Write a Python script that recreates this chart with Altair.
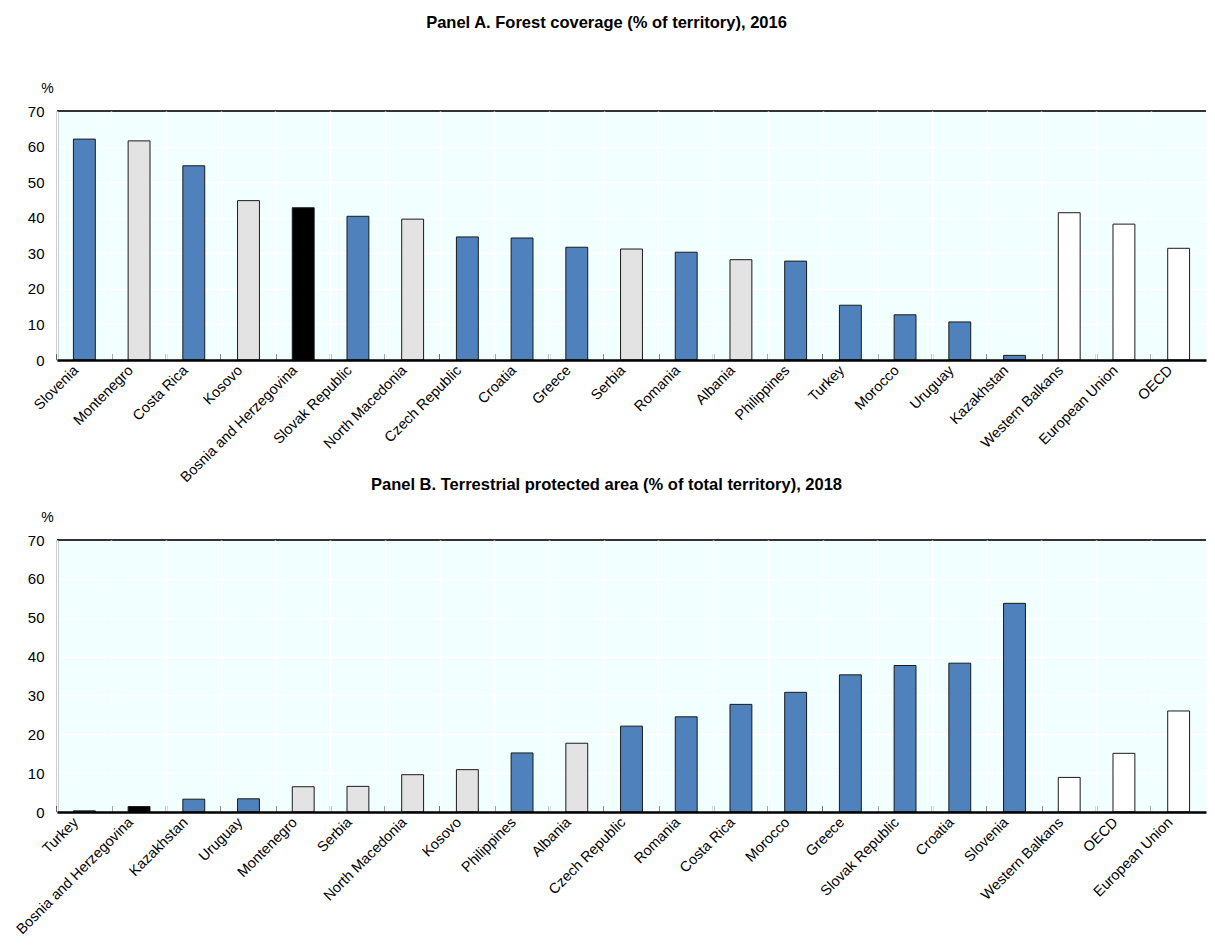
import altair as alt
import pandas as pd

FONT = "Liberation Sans, Arial, Helvetica, sans-serif"

# Panel A: forest coverage (% of territory), 2016
a_countries = ["Slovenia", "Montenegro", "Costa Rica", "Kosovo", "Bosnia and Herzegovina",
               "Slovak Republic", "North Macedonia", "Czech Republic", "Croatia", "Greece",
               "Serbia", "Romania", "Albania", "Philippines", "Turkey", "Morocco", "Uruguay",
               "Kazakhstan", "Western Balkans", "European Union", "OECD"]
a_values = [62.1, 61.6, 54.6, 44.8, 42.8, 40.4, 39.6, 34.6, 34.3, 31.7, 31.2, 30.3, 28.2,
            27.8, 15.4, 12.7, 10.7, 1.3, 41.4, 38.2, 31.4]
a_groups = ["O", "W", "O", "W", "B", "O", "W", "O", "O", "O", "W", "O", "W", "O", "O", "O",
            "O", "O", "A", "A", "A"]

# Panel B: terrestrial protected area (% of total territory), 2018
b_countries = ["Turkey", "Bosnia and Herzegovina", "Kazakhstan", "Uruguay", "Montenegro",
               "Serbia", "North Macedonia", "Kosovo", "Philippines", "Albania", "Czech Republic",
               "Romania", "Costa Rica", "Morocco", "Greece", "Slovak Republic", "Croatia",
               "Slovenia", "Western Balkans", "OECD", "European Union"]
b_values = [0.3, 1.4, 3.3, 3.4, 6.5, 6.6, 9.6, 10.9, 15.2, 17.7, 22.1, 24.5, 27.7, 30.8,
            35.3, 37.7, 38.3, 53.7, 8.9, 15.1, 26.0]
b_groups = ["O", "B", "O", "O", "W", "W", "W", "W", "O", "W", "O", "O", "O", "O", "O", "O",
            "O", "O", "A", "A", "A"]

group_domain = ["O", "W", "B", "A"]
group_colors = ["#4F81BD", "#E3E3E3", "#000000", "#FFFFFF"]
y_ticks = [0, 10, 20, 30, 40, 50, 60, 70]

W = 1149


def panel(cats, vals, grps, title, h, title_offset):
    df = pd.DataFrame({"country": cats, "value": vals, "group": grps})
    x = alt.X(
        "country:N", sort=cats,
        scale=alt.Scale(paddingInner=0, paddingOuter=0),
        axis=alt.Axis(title=None, labelAngle=315, labelAlign="right", labelBaseline="middle",
                      labelFontSize=14.5, labelFont=FONT, labelColor="black", labelPadding=8,
                      labelOffset=-8, labelLimit=400, ticks=False, domainColor="black",
                      domainWidth=2.5, grid=True, gridColor="white", gridWidth=1.5,
                      bandPosition=0, zindex=1),
    )
    y = alt.Y(
        "value:Q", scale=alt.Scale(domain=[0, 70], nice=False),
        axis=alt.Axis(values=y_ticks, title="%", titleAngle=0, titleX=-10, titleY=-16,
                      titleBaseline="bottom", titleAlign="center", titleFontWeight="normal",
                      titleFontSize=14, titleFont=FONT, titleColor="black",
                      labelFontSize=15, labelFont=FONT, labelColor="black", labelPadding=13,
                      ticks=False, domainColor="black", domainWidth=1.5,
                      grid=True, gridColor="white", gridWidth=1.5),
    )
    bars = alt.Chart(df).mark_bar(width={"band": 0.4}, stroke="#1a1a1a", strokeWidth=1).encode(
        x=x, y=y,
        color=alt.Color("group:N", scale=alt.Scale(domain=group_domain, range=group_colors),
                        legend=None),
    )
    ticks = alt.Chart(df).mark_rule(color="black", strokeWidth=1.5).encode(
        x=alt.X("country:N", sort=cats, bandPosition=0),
        y=alt.value(h), y2=alt.value(h - 6),
    )
    border = alt.Chart(pd.DataFrame({"k": [0]})).mark_rule(color="#333333", strokeWidth=2).encode(
        x=alt.value(0), x2=alt.value(W), y=alt.value(0),
    )
    return alt.layer(bars, ticks, border).properties(
        width=W, height=h,
        title=alt.TitleParams(title, font=FONT, fontSize=16.5, fontWeight="bold", color="black",
                              anchor="middle", dx=-25, offset=title_offset),
    )


pa = panel(a_countries, a_values, a_groups,
           "Panel A. Forest coverage (% of territory), 2016", 249, 50)
pb = panel(b_countries, b_values, b_groups,
           "Panel B. Terrestrial protected area (% of total territory), 2018", 272, 17)

chart = alt.vconcat(pa, pb, spacing=180, bounds="flush").properties(
    padding={"left": 5, "top": 6, "right": 0, "bottom": 0}
).configure_view(fill="#F2FFFF", strokeOpacity=0)

chart.save("out.html", embed_options={"renderer": "svg", "actions": False})
